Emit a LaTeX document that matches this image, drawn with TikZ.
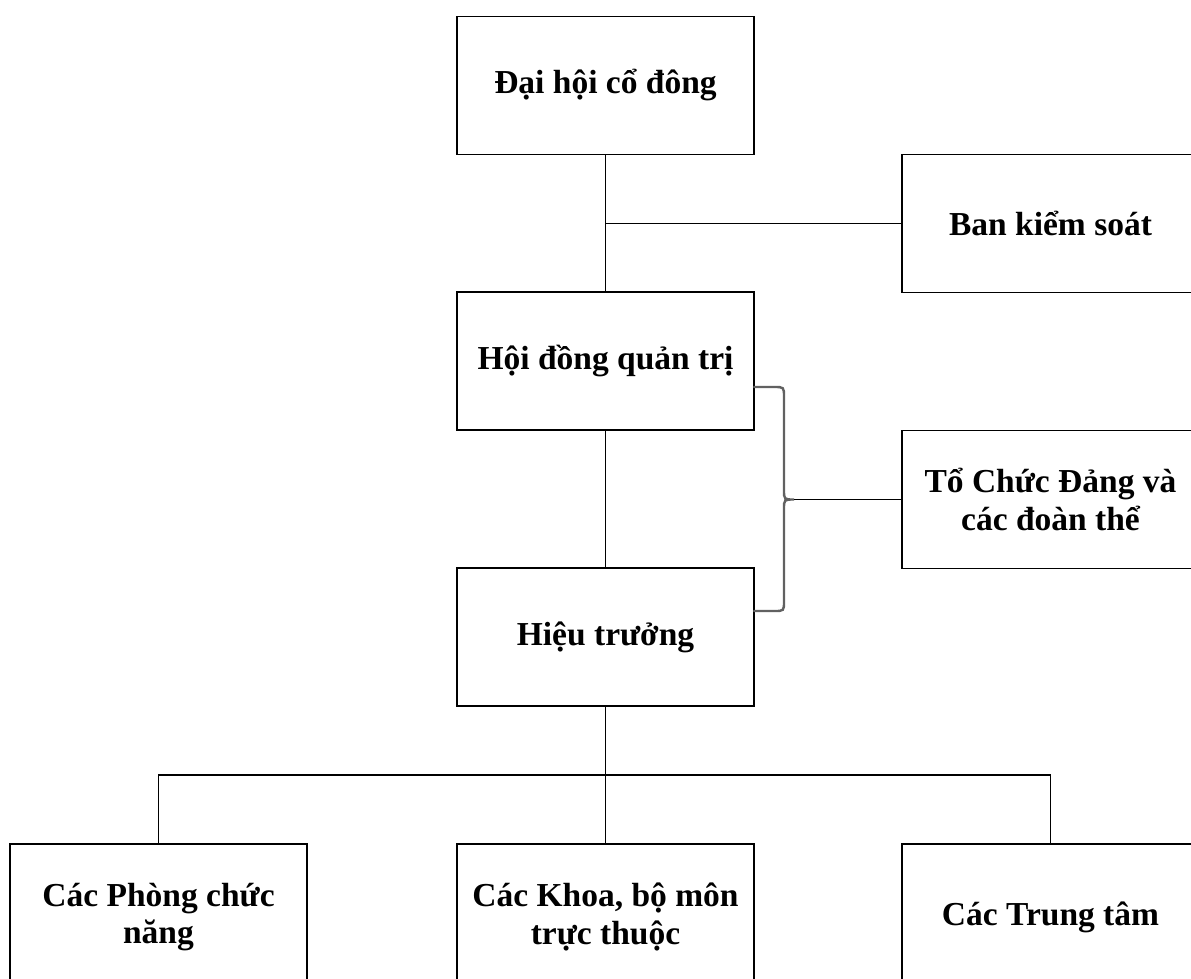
\documentclass[tikz,border=0pt]{standalone}
\usepackage{fontspec}
\setmainfont{Liberation Serif}
\begin{document}
\begin{tikzpicture}[x=1pt,y=-1pt,
  orgbox/.style={draw=black,line width=1.4pt,minimum width=297pt,minimum height=138pt,inner sep=0pt,align=center,
    font=\fontsize{33.5}{37.5}\selectfont\bfseries},
  lowbox/.style={orgbox,minimum height=146pt},
  conn/.style={draw=black,line width=1.3pt},
  bracestyle/.style={draw=black!62,line width=2.4pt,line cap=round}]
\useasboundingbox (0,0) rectangle (1191,978);
\clip (0,0) rectangle (1191,978);
\fill[white] (0,0) rectangle (1191,978);
\node[orgbox] (dh) at (605.5,85.5) {Đại hội cổ đông};
\node[orgbox] (bks) at (1050.5,223.5) {Ban kiểm soát};
\node[orgbox] (hdqt) at (605.5,361) {Hội đồng quản trị};
\node[orgbox] (tc) at (1050.5,499.5) {Tổ Chức Đảng và\\các đoàn thể};
\node[orgbox] (ht) at (605.5,637) {Hiệu trưởng};
\node[lowbox] (p1) at (158.5,917) {Các Phòng chức\\năng};
\node[lowbox] (p2) at (605.5,917) {Các Khoa, bộ môn\\trực thuộc};
\node[lowbox] (p3) at (1050.5,917) {Các Trung tâm};
% top connectors
\draw[conn] (dh.south) -- (hdqt.north);
\coordinate (j1) at (dh.south |- bks.west);
\draw[conn] (j1) -- (bks.west);
\draw[conn] (hdqt.south) -- (ht.north);
% brace
\coordinate (bt) at (754,387);
\coordinate (bb) at (754,611);
\coordinate (bm) at (794,499.5);
\draw[bracestyle] (bt) -- (774,387) .. controls (784,387) .. (784,397) -- (784,490)
  .. controls (784,499.5) .. (bm) .. controls (784,499.5) .. (784,509) -- (784,601)
  .. controls (784,611) .. (774,611) -- (bb);
\draw[conn] (bm) -- (tc.west);
% bottom connectors
\coordinate (bus) at (605.5,775);
\draw[conn] (ht.south) -- (p2.north);
\draw[conn] (p1.north) -- (p1.north |- bus) -- (p3.north |- bus) -- (p3.north);
\end{tikzpicture}
\end{document}
